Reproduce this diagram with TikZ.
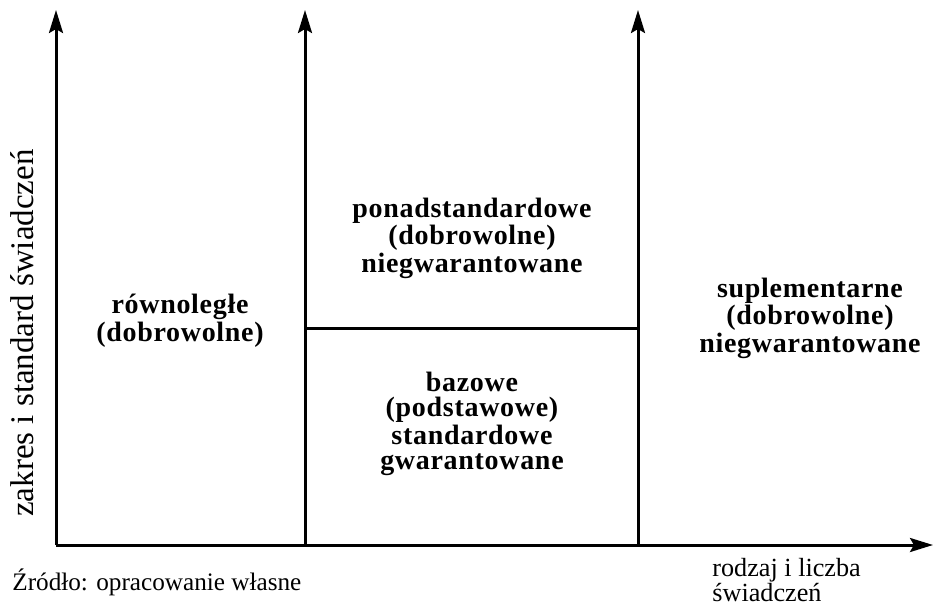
\documentclass[tikz,border=0pt]{standalone}
\usepackage{fontspec}
\setmainfont{Liberation Serif}
\usetikzlibrary{arrows.meta}
\newfontfamily\spacedbold[LetterSpace=2.5]{Liberation Serif Bold}
\begin{document}
\begin{tikzpicture}[x=0.5pt,y=-0.5pt,
  axis/.style={line width=1.5pt,-{Stealth[length=11.5pt,width=7pt,inset=2pt]}},
  rule/.style={line width=1.5pt},
  field/.style={align=center,inner sep=0pt,font=\spacedbold\fontsize{14}{12.5}\selectfont},
  caption/.style={inner sep=0pt,font=\fontsize{12.6}{11}\selectfont}]
\useasboundingbox (0,0) rectangle (934,606);
% axes and column boundaries
\coordinate (O) at (56,545);
\coordinate (ytop) at (56,10);
\coordinate (xend) at (933,545);
\coordinate (b1) at (305,545);
\coordinate (t1) at (305,10);
\coordinate (b2) at (638,545);
\coordinate (t2) at (638,10);
\coordinate (d1) at (305,328);
\coordinate (d2) at (638,328);
\draw[axis] (O) -- (ytop);
\draw[axis] (O) -- (xend);
\draw[axis] (b1) -- (t1);
\draw[axis] (b2) -- (t2);
\draw[rule] (d1) -- (d2);
% column contents
\node[field] (parallel) at (180,321) {równoległe\\(dobrowolne)};
\node[field] (extra) at (472,238) {ponadstandardowe\\(dobrowolne)\\niegwarantowane};
\node[field] (base) at (472,424) {bazowe\\(podstawowe)\\standardowe\\gwarantowane};
\node[field] (supp) at (810,318) {suplementarne\\(dobrowolne)\\niegwarantowane};
% axis labels and source
\node[caption,font=\fontsize{16.5}{16}\selectfont,rotate=90] (ylab) at (22,333) {zakres i standard świadczeń};
\node[caption,align=left,anchor=north west,font=\fontsize{13.1}{10}\selectfont] (xlab) at (712,558) {rodzaj i liczba\\[-0.6pt]świadczeń};
\node[caption,anchor=base west] (src) at (12,590) {Źródło: opracowanie własne};
\end{tikzpicture}
\end{document}
